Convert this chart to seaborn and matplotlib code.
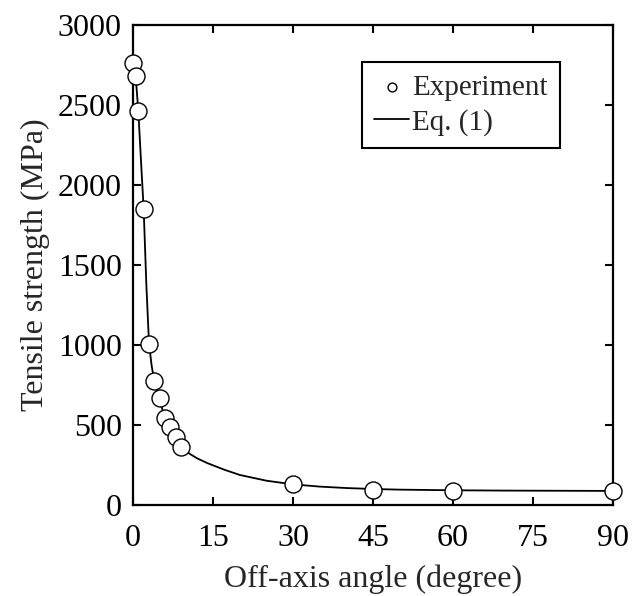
import matplotlib
matplotlib.use("Agg")
import matplotlib.pyplot as plt
import seaborn as sns
import pandas as pd

exp_angle = [0, 0.5, 1, 2, 3, 4, 5, 6, 7, 8, 9, 30, 45, 60, 90]
exp_strength = [2760, 2680, 2460, 1848, 1008, 772, 666, 542, 488, 425, 362, 129, 95, 90, 88]

# Eq. (1) curve
eq_angle = [0, 0.5, 1, 1.5, 2, 2.5, 3, 3.5, 4, 5, 6, 7, 8, 9, 10, 12, 14, 17, 20,
            25, 30, 35, 40, 45, 50, 60, 70, 80, 90]
eq_strength = [2760, 2680, 2460, 2150, 1850, 1380, 1010, 870, 775, 650, 545, 480,
               420, 368, 333, 292, 261, 222, 188, 152, 129, 115, 106, 100, 96,
               92, 90, 89, 88]

x_ticks = [0, 15, 30, 45, 60, 75, 90]
y_ticks = [0, 500, 1000, 1500, 2000, 2500, 3000]

sns.set_theme(style="ticks")
plt.rcParams["font.family"] = ["Liberation Serif", "DejaVu Serif"]
plt.rcParams["mathtext.fontset"] = "stix"

FS = 23
LFS = 21

fig = plt.figure(figsize=(6.32, 5.96), dpi=100)
ax = fig.add_axes([133 / 632, 1 - 505 / 596, 480 / 632, 480 / 596])

df_eq = pd.DataFrame({"angle": eq_angle, "strength": eq_strength})
df_exp = pd.DataFrame({"angle": exp_angle, "strength": exp_strength})

sns.lineplot(data=df_eq, x="angle", y="strength", ax=ax, color="black",
             linewidth=1.3, label="Eq. (1)", zorder=2)
sns.scatterplot(data=df_exp, x="angle", y="strength", ax=ax, marker="o",
                s=150, facecolor="white", edgecolor="black", linewidth=1.0,
                label="Experiment", zorder=3, clip_on=False)

ax.set_xlim(0, 90)
ax.set_ylim(0, 3000)
ax.set_xticks(x_ticks)
ax.set_yticks(y_ticks)
ax.set_xlabel("Off-axis angle (degree)", fontsize=FS, labelpad=8)
ax.set_ylabel("Tensile strength (MPa)", fontsize=FS, labelpad=6)
ax.tick_params(axis="both", which="both", direction="in", length=6, width=1.5,
               labelsize=FS, top=True, right=True, colors="black")
ax.tick_params(axis="x", pad=14)
ax.tick_params(axis="y", pad=8)
for s in ax.spines.values():
    s.set_linewidth(1.6)
    s.set_color("black")

handles, labels = ax.get_legend_handles_labels()
order = [labels.index("Experiment"), labels.index("Eq. (1)")]
leg = ax.legend([handles[i] for i in order], [labels[i] for i in order],
                loc="upper left", bbox_to_anchor=(229 / 480, 1 - 37 / 480),
                fontsize=LFS, frameon=True, fancybox=False, edgecolor="black",
                framealpha=1, handlelength=1.2, handletextpad=0.1,
                borderpad=0.42, labelspacing=0.28, borderaxespad=0)
leg.get_frame().set_linewidth(1.5)
leg.legend_handles[0].set_sizes([40])

fig.savefig("out.png", dpi=100)
